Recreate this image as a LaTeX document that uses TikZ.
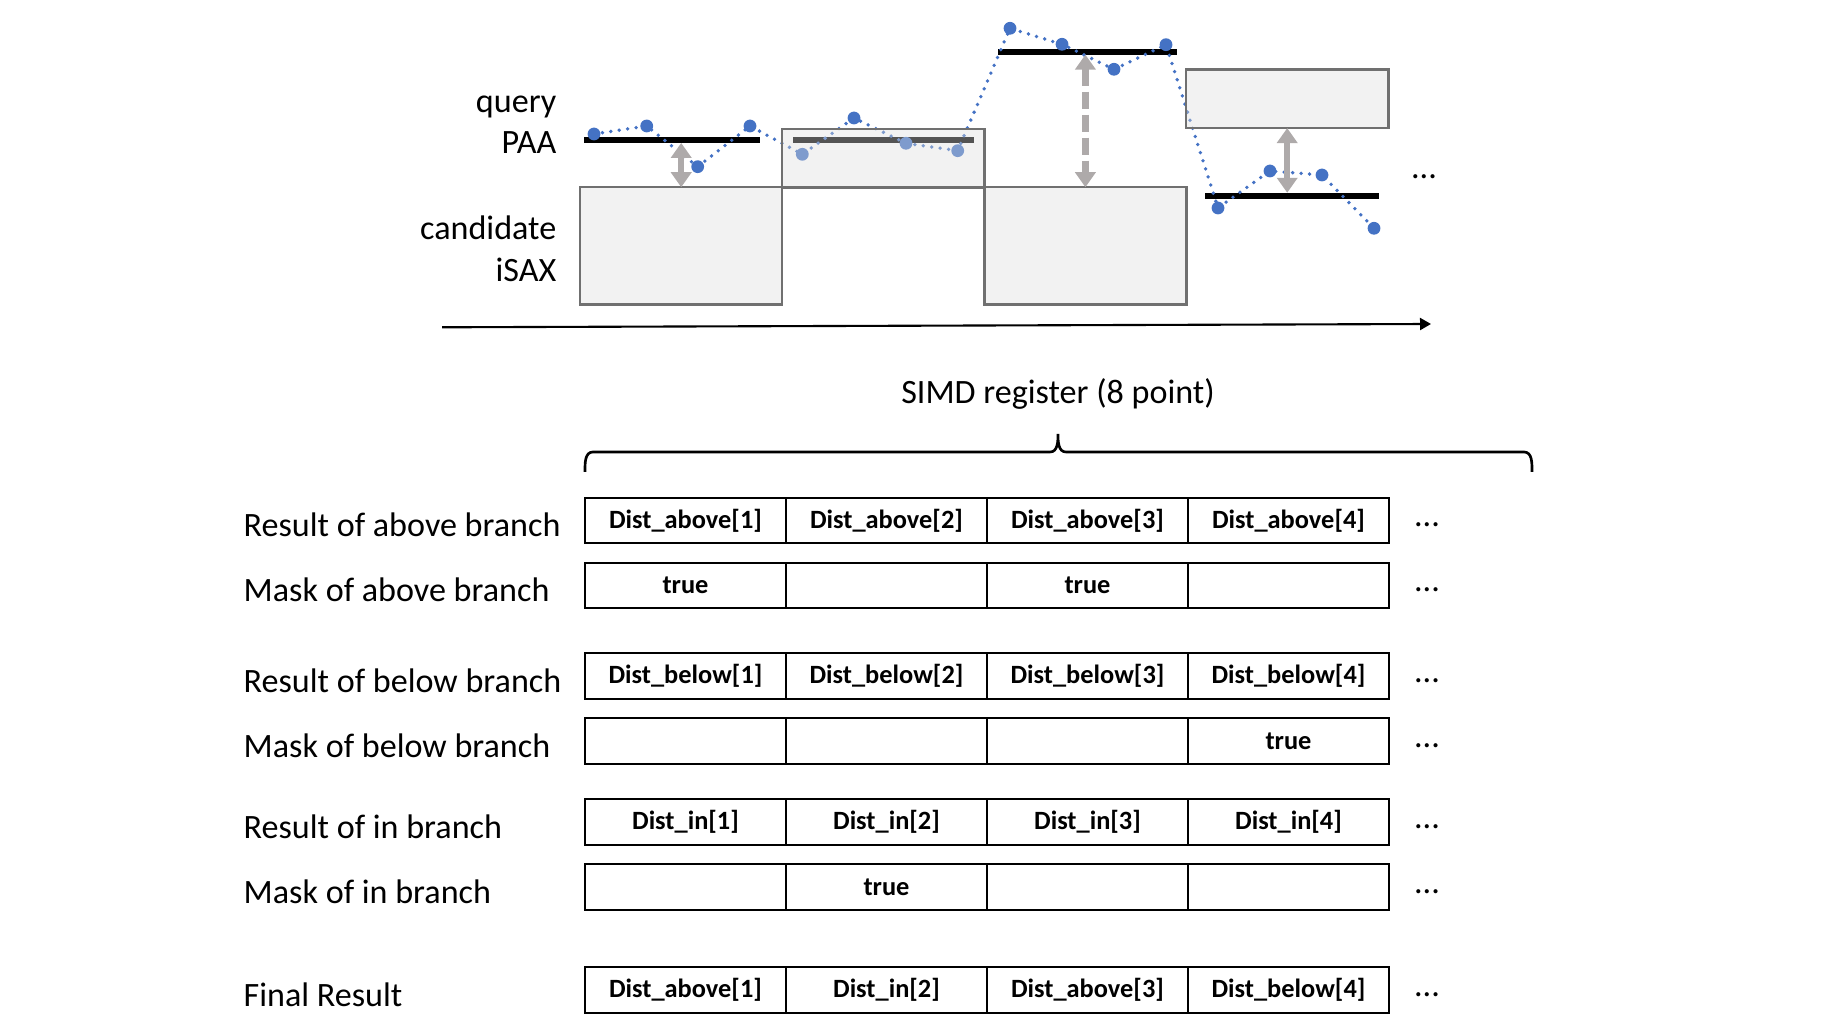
\documentclass[tikz,border=0pt]{standalone}
\usepackage{fontspec}
\setmainfont{Carlito}
\usepackage{tikz}
\usetikzlibrary{arrows.meta,positioning,calc}
\definecolor{ptblue}{HTML}{4472C4}
\definecolor{arrgray}{HTML}{AEAAAA}
\definecolor{boxedge}{HTML}{707070}
\definecolor{boxshade}{HTML}{DDDDDD}
\tikzset{
  lbl/.style={inner sep=0pt, font=\fontsize{9.7}{11.6}\selectfont},
  cell/.style={rectangle, draw=black, line width=0.65pt, minimum width=2.01cm, minimum height=0.455cm,
               inner sep=0pt, outer sep=0pt, font=\fontsize{7.5}{9}\selectfont\bfseries},
  isax/.style={rectangle, draw=boxedge, line width=0.7pt, fill=boxshade, fill opacity=0.384,
               inner sep=0pt, outer sep=0pt, minimum width=2.02cm},
  paa/.style={rectangle, fill=black, inner sep=0pt, outer sep=0pt, minimum height=0.058cm},
  gaparr/.style={{Triangle[length=0.15cm,width=0.2cm]}-{Triangle[length=0.15cm,width=0.2cm]},
                 draw=arrgray, line width=0.065cm},
  series/.style={draw=ptblue, line width=0.038cm, line cap=round, dash pattern=on 0pt off 0.085cm},
}

\begin{document}
\begin{tikzpicture}[x=0.01cm, y=-0.01cm]
    \useasboundingbox (0,0) rectangle (1827,1028);
    % time series part
    \node[lbl, anchor=base east] (q1) at (557,113)   {query};
    \node[lbl, anchor=base east] (q2) at (557,154)   {PAA};
    \node[lbl, anchor=base east] (c1) at (557,239.5) {candidate};
    \node[lbl, anchor=base east] (c2) at (557,281.5) {iSAX};
    \node[paa, minimum width=1.76cm]  (bar1) at (672.3,140) {};
    \node[paa, minimum width=1.81cm]  (bar2) at (883.2,140) {};
    \node[paa, minimum width=1.79cm]  (bar3) at (1087.2,51.7) {};
    \node[paa, minimum width=1.743cm] (bar4) at (1292.2,195.7) {};
    \coordinate (s1) at (594,134);    \coordinate (s2) at (646.7,126);
    \coordinate (s3) at (697.7,166.7);\coordinate (s4) at (750,126);
    \coordinate (s5) at (802.3,154.3);\coordinate (s6) at (854,118);
    \coordinate (s7) at (906,143.3);  \coordinate (s8) at (957.7,150.7);
    \coordinate (s9) at (1010,28.3);  \coordinate (s10) at (1062,44.3);
    \coordinate (s11) at (1114,69.3); \coordinate (s12) at (1166,44.7);
    \coordinate (s13) at (1218,208);  \coordinate (s14) at (1270,171);
    \coordinate (s15) at (1322,175);  \coordinate (s16) at (1374,228.3);
    \draw[series] (s1)--(s2)--(s3)--(s4)--(s5)--(s6)--(s7)--(s8)--(s9)--(s10)--(s11)--(s12)--(s13)--(s14)--(s15)--(s16);
    \foreach \p in {1,...,16} \fill[ptblue] (s\p) circle[radius=0.064cm];
    \node[isax, minimum height=1.17cm]  (box1) at (681.2,245.8)  {};
    \node[isax, minimum height=0.583cm] (box2) at (883.2,158.2)  {};
    \node[isax, minimum height=1.17cm]  (box3) at (1085.4,245.8) {};
    \node[isax, minimum height=0.583cm] (box4) at (1287.2,98.9)  {};
    \draw[gaparr] (bar1.south -| box1.north) -- (box1.north);
    \draw[gaparr, dash pattern=on 0.17cm off 0.06cm] (bar3.south -| box3.north) -- (box3.north);
    \draw[gaparr] (box4.south) -- (bar4.north -| box4.south);
    \node[lbl, anchor=base] (more0) at (1424,179) {...};
    \coordinate (t0) at (442,327.3);
    \coordinate (t1) at (1431,324);
    \draw[-{Triangle[length=0.11cm,width=0.12cm]}, line width=0.6pt] (t0) -- (t1);
    % SIMD register
    \node[lbl, anchor=base] (simd) at (1058,404) {SIMD register (8 point)};
    \draw[line width=0.75pt] (585,472) to[out=90,in=180] (593,452) -- (1050,452)
        to[out=0,in=-90] (1058,434) to[out=-90,in=180] (1066,452) -- (1524,452) to[out=0,in=90] (1532,472);
    \node[lbl, anchor=base west] (lra) at (243,537)    {Result of above branch};
    \node[lbl, anchor=base west] (lma) at (243,602)    {Mask of above branch};
    \node[lbl, anchor=base west] (lrb) at (243,692.5)  {Result of below branch};
    \node[lbl, anchor=base west] (lmb) at (243,757.5)  {Mask of below branch};
    \node[lbl, anchor=base west] (lri) at (243,838.5)  {Result of in branch};
    \node[lbl, anchor=base west] (lmi) at (243,903.5)  {Mask of in branch};
    \node[lbl, anchor=base west] (lfr) at (243,1006.5) {Final Result};
    \node[cell] (ra1) at (685.5,520.5) {Dist\_above[1]};  \node[cell] (ra2) at (886.5,520.5) {Dist\_above[2]};
    \node[cell] (ra3) at (1087.5,520.5) {Dist\_above[3]}; \node[cell] (ra4) at (1288.5,520.5) {Dist\_above[4]};
    \node[cell] (ma1) at (685.5,585.5) {true};  \node[cell] (ma2) at (886.5,585.5) {};
    \node[cell] (ma3) at (1087.5,585.5) {true}; \node[cell] (ma4) at (1288.5,585.5) {};
    \node[cell] (rb1) at (685.5,676) {Dist\_below[1]};  \node[cell] (rb2) at (886.5,676) {Dist\_below[2]};
    \node[cell] (rb3) at (1087.5,676) {Dist\_below[3]}; \node[cell] (rb4) at (1288.5,676) {Dist\_below[4]};
    \node[cell] (mb1) at (685.5,741) {};  \node[cell] (mb2) at (886.5,741) {};
    \node[cell] (mb3) at (1087.5,741) {}; \node[cell] (mb4) at (1288.5,741) {true};
    \node[cell] (ri1) at (685.5,822) {Dist\_in[1]};  \node[cell] (ri2) at (886.5,822) {Dist\_in[2]};
    \node[cell] (ri3) at (1087.5,822) {Dist\_in[3]}; \node[cell] (ri4) at (1288.5,822) {Dist\_in[4]};
    \node[cell] (mi1) at (685.5,887) {};  \node[cell] (mi2) at (886.5,887) {true};
    \node[cell] (mi3) at (1087.5,887) {}; \node[cell] (mi4) at (1288.5,887) {};
    \node[cell] (fr1) at (685.5,990) {Dist\_above[1]};  \node[cell] (fr2) at (886.5,990) {Dist\_in[2]};
    \node[cell] (fr3) at (1087.5,990) {Dist\_above[3]}; \node[cell] (fr4) at (1288.5,990) {Dist\_below[4]};
    \node[lbl, anchor=base] (more1) at (1427,527)    {...};
    \node[lbl, anchor=base] (more2) at (1427,592)    {...};
    \node[lbl, anchor=base] (more3) at (1427,682.5)  {...};
    \node[lbl, anchor=base] (more4) at (1427,747.5)  {...};
    \node[lbl, anchor=base] (more5) at (1427,828.5)  {...};
    \node[lbl, anchor=base] (more6) at (1427,893.5)  {...};
    \node[lbl, anchor=base] (more7) at (1427,996.5)  {...};
  \end{tikzpicture}
\end{document}
